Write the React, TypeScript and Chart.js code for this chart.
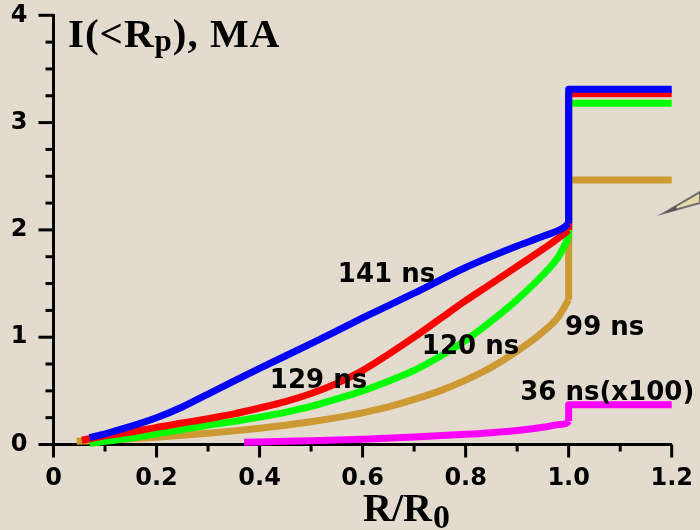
import React, { useEffect, useRef } from "react";
import { Chart, registerables } from "chart.js";

Chart.register(...registerables);

// ---- data (R/R0 vs I(<Rp), MA) ----
const blueR = [0.07, 0.1, 0.14, 0.2, 0.25, 0.3, 0.35, 0.4, 0.5, 0.6, 0.7, 0.8, 0.9, 0.95, 0.99, 1.0, 1.0, 1.2];
const blueI = [0.065, 0.1, 0.155, 0.25, 0.35, 0.47, 0.59, 0.71, 0.94, 1.18, 1.41, 1.65, 1.85, 1.94, 2.02, 2.06, 3.31, 3.31];

const redR = [0.055, 0.1, 0.15, 0.2, 0.25, 0.3, 0.35, 0.4, 0.45, 0.5, 0.55, 0.6, 0.65, 0.7, 0.75, 0.8, 0.85, 0.9, 0.95, 0.99, 1.0, 1.0, 1.2];
const redI = [0.04, 0.08, 0.115, 0.16, 0.2, 0.24, 0.285, 0.34, 0.4, 0.475, 0.57, 0.69, 0.84, 1.0, 1.17, 1.34, 1.5, 1.66, 1.82, 1.96, 2.0, 3.27, 3.27];

const greenR = [0.07, 0.1, 0.15, 0.2, 0.25, 0.3, 0.35, 0.4, 0.45, 0.5, 0.55, 0.6, 0.65, 0.7, 0.75, 0.8, 0.85, 0.9, 0.95, 0.98, 1.0, 1.0, 1.2];
const greenI = [0.01, 0.03, 0.06, 0.1, 0.14, 0.18, 0.215, 0.255, 0.3, 0.355, 0.425, 0.5, 0.59, 0.69, 0.82, 0.97, 1.15, 1.35, 1.58, 1.75, 1.93, 3.18, 3.18];

const orangeR = [0.045, 0.1, 0.15, 0.2, 0.25, 0.3, 0.35, 0.4, 0.45, 0.5, 0.55, 0.6, 0.65, 0.7, 0.75, 0.8, 0.85, 0.9, 0.95, 0.98, 1.0, 1.0, 1.2];
const orangeI = [0.03, 0.04, 0.053, 0.068, 0.085, 0.105, 0.127, 0.152, 0.18, 0.212, 0.25, 0.295, 0.35, 0.42, 0.5, 0.6, 0.72, 0.87, 1.05, 1.19, 1.35, 2.465, 2.465];

const magentaR = [0.37, 0.45, 0.5, 0.6, 0.7, 0.8, 0.85, 0.9, 0.95, 0.98, 0.997, 1.0, 1.0, 1.2];
const magentaI = [0.02, 0.03, 0.035, 0.05, 0.07, 0.095, 0.11, 0.13, 0.16, 0.185, 0.2, 0.22, 0.37, 0.37];

const xTickLabels = ["0", "0.2", "0.4", "0.6", "0.8", "1.0", "1.2"];
const yTickLabels = ["0", "1", "2", "3", "4"];

const curveLabels = ["141 ns", "129 ns", "120 ns", "99 ns", "36 ns(x100)"];
const curveLabelR = [0.552, 0.42, 0.715, 0.993, 0.906];
const curveLabelI = [1.514, 0.527, 0.843, 1.02, 0.415];

const toPts = (xs: number[], ys: number[]) => xs.map((x, i) => ({ x, y: ys[i] }));

const BG = "#e3dbce";
const SANS = '"DejaVu Sans"';
const SERIF = '"Liberation Serif"';

const zeroPad = (s: any) => {
  s.paddingTop = 0;
  s.paddingBottom = 0;
  s.paddingLeft = 0;
  s.paddingRight = 0;
};

const decorPlugin = {
  id: "decor",
  beforeDraw(chart: any) {
    const { ctx, width, height } = chart;
    ctx.save();
    ctx.fillStyle = BG;
    ctx.fillRect(0, 0, width, height);
    ctx.restore();
  },
  beforeDatasetsDraw(chart: any) {
    const { ctx } = chart;
    const x = chart.scales.x;
    const y = chart.scales.y;
    ctx.save();
    ctx.strokeStyle = "#000";
    ctx.lineWidth = 3;
    ctx.lineCap = "butt";
    for (let i = 0; i <= 12; i++) {
      const px = x.getPixelForValue(i / 10);
      const len = i % 2 === 0 ? 13 : 7;
      ctx.beginPath();
      ctx.moveTo(px, y.bottom);
      ctx.lineTo(px, y.bottom + len);
      ctx.stroke();
    }
    for (let i = 0; i <= 16; i++) {
      const py = y.getPixelForValue(i / 4);
      const len = i % 4 === 0 ? 15 : 8;
      ctx.beginPath();
      ctx.moveTo(x.left, py);
      ctx.lineTo(x.left - len, py);
      ctx.stroke();
    }
    ctx.restore();
  },
  afterDatasetsDraw(chart: any) {
    const { ctx } = chart;
    const x = chart.scales.x;
    const y = chart.scales.y;
    ctx.save();
    ctx.fillStyle = "#000";
    ctx.textBaseline = "alphabetic";
    ctx.textAlign = "left";
    ctx.font = `bold 26px ${SANS}`;
    curveLabels.forEach((t, i) => {
      ctx.fillText(t, x.getPixelForValue(curveLabelR[i]), y.getPixelForValue(curveLabelI[i]));
    });
    (ctx as any).letterSpacing = "1px";
    ctx.font = `bold 41px ${SERIF}`;
    let cx = 68;
    const base = 47;
    ctx.fillText("I(<R", cx, base);
    cx += ctx.measureText("I(<R").width;
    ctx.font = `bold 31px ${SERIF}`;
    ctx.fillText("p", cx, base + 4);
    cx += ctx.measureText("p").width;
    ctx.font = `bold 41px ${SERIF}`;
    ctx.fillText("), MA", cx, base);
    (ctx as any).letterSpacing = "0px";
    ctx.font = `bold 40px ${SERIF}`;
    let tx = 363;
    const tb = 521;
    ctx.fillText("R/R", tx, tb);
    tx += ctx.measureText("R/R").width;
    ctx.font = `bold 34px ${SERIF}`;
    ctx.fillText("0", tx + 1, tb + 7);
    // pencil tip decoration at right edge
    ctx.beginPath();
    ctx.moveTo(664, 213);
    ctx.lineTo(700, 192);
    ctx.lineTo(700, 203);
    ctx.closePath();
    ctx.fillStyle = "#e6d9a8";
    ctx.fill();
    ctx.strokeStyle = "#6e6e6e";
    ctx.lineWidth = 2;
    ctx.stroke();
    ctx.beginPath();
    ctx.moveTo(664, 213);
    ctx.lineTo(676, 206);
    ctx.lineTo(677, 210);
    ctx.closePath();
    ctx.fillStyle = "#555";
    ctx.fill();
    ctx.restore();
  },
};

export default function App() {
  const ref = useRef<HTMLCanvasElement | null>(null);
  useEffect(() => {
    if (!ref.current) return;
    const base = (label: string, data: any[], color: string) => ({
      label,
      data,
      borderColor: color,
      backgroundColor: color,
      borderWidth: 7,
      pointRadius: 0,
      fill: false,
      clip: false as any,
      borderJoinStyle: "round" as const,
      borderCapStyle: "butt" as const,
    });
    // each series: smooth curve up to R/R0 = 1, then the straight jump and plateau
    const series = (label: string, xs: number[], ys: number[], color: string) => {
      const pts = toPts(xs, ys);
      const k = xs.indexOf(1.0);
      return [
        { ...base(label + " jump", pts.slice(k), color), tension: 0 },
        { ...base(label, pts.slice(0, k + 1), color), cubicInterpolationMode: "monotone" as const },
      ];
    };
    const chart = new Chart(ref.current, {
      type: "line",
      data: {
        datasets: [
          ...series("141 ns", blueR, blueI, "#0000ff"),
          ...series("129 ns", redR, redI, "#ff0000"),
          ...series("120 ns", greenR, greenI, "#00ff00"),
          ...series("36 ns(x100)", magentaR, magentaI, "#ff00ff"),
          ...series("99 ns", orangeR, orangeI, "#cc9933"),
        ] as any,
      },
      options: {
        animation: false,
        responsive: false,
        devicePixelRatio: 1,
        layout: { autoPadding: false, padding: { top: 15.3, right: 28.3, left: 0, bottom: 0 } },
        plugins: { legend: { display: false }, tooltip: { enabled: false }, title: { display: false } },
        scales: {
          x: {
            type: "linear",
            min: 0,
            max: 1.2,
            afterFit: (s: any) => {
              s.height = 85.5;
              zeroPad(s);
            },
            border: { display: true, color: "#000", width: 3 },
            grid: { display: true, drawOnChartArea: false, drawTicks: false },
            ticks: {
              stepSize: 0.2,
              autoSkip: false,
              maxRotation: 0,
              padding: 20,
              color: "#000",
              font: { family: "DejaVu Sans", weight: "bold", size: 24 },
              callback: (_v: any, i: number) => xTickLabels[i],
            },
          },
          y: {
            type: "linear",
            min: 0,
            max: 4,
            afterFit: (s: any) => {
              s.width = 53.5;
              zeroPad(s);
            },
            border: { display: true, color: "#000", width: 3 },
            grid: { display: true, drawOnChartArea: false, drawTicks: false },
            ticks: {
              stepSize: 1,
              autoSkip: false,
              padding: 26,
              color: "#000",
              font: { family: "DejaVu Sans", weight: "bold", size: 24 },
              callback: (_v: any, i: number) => yTickLabels[i],
            },
          },
        },
      },
      plugins: [decorPlugin],
    });
    return () => chart.destroy();
  }, []);
  return (
    <div style={{ position: "absolute", left: 0, top: 0, width: 700, height: 530 }}>
      <canvas ref={ref} width={700} height={530} style={{ display: "block" }} />
    </div>
  );
}
